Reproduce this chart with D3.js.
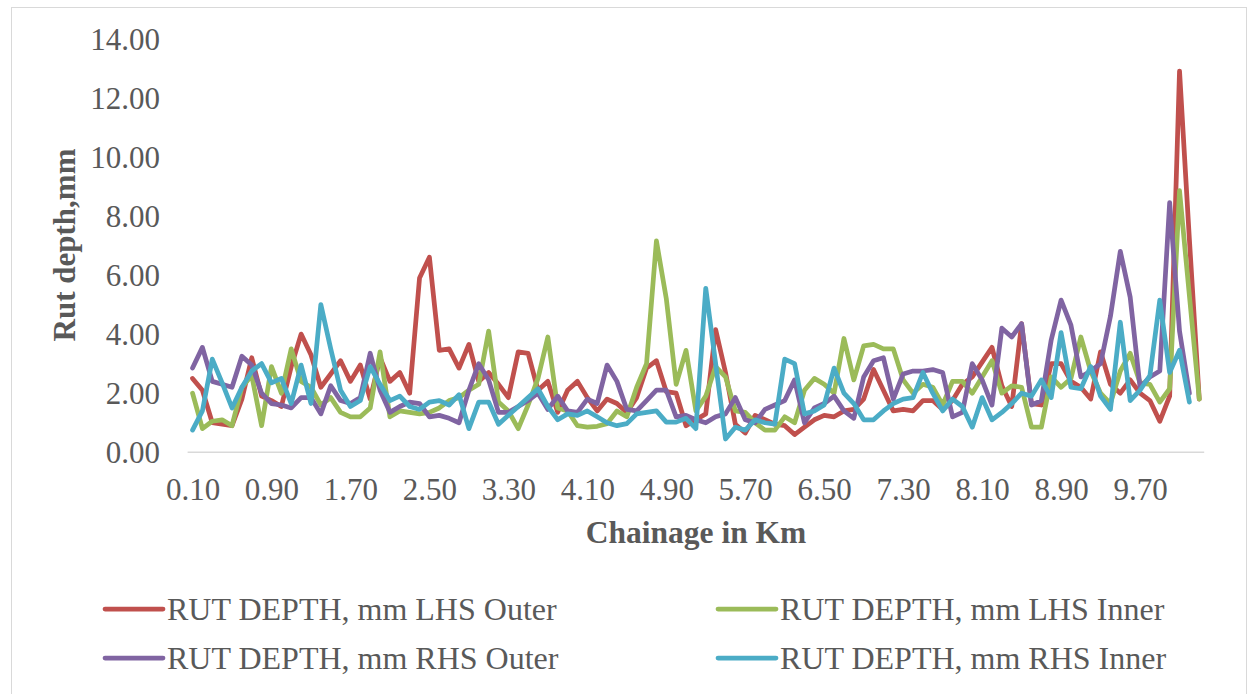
<!DOCTYPE html>
<html>
<head>
<meta charset="utf-8">
<script src="https://cdn.jsdelivr.net/npm/d3@7"></script>
<style>
  html, body { margin: 0; padding: 0; background: #ffffff; }
  svg { display: block; }
  text { font-family: "Liberation Serif", "Times New Roman", serif; fill: #595959; }
</style>
</head>
<body>
<svg id="chart" width="1254" height="694"></svg>
<script>
const categories = ["0.10","0.20","0.30","0.40","0.50","0.60","0.70","0.80","0.90","1.00",
"1.10","1.20","1.30","1.40","1.50","1.60","1.70","1.80","1.90","2.00",
"2.10","2.20","2.30","2.40","2.50","2.60","2.70","2.80","2.90","3.00",
"3.10","3.20","3.30","3.40","3.50","3.60","3.70","3.80","3.90","4.00",
"4.10","4.20","4.30","4.40","4.50","4.60","4.70","4.80","4.90","5.00",
"5.10","5.20","5.30","5.40","5.50","5.60","5.70","5.80","5.90","6.00",
"6.10","6.20","6.30","6.40","6.50","6.60","6.70","6.80","6.90","7.00",
"7.10","7.20","7.30","7.40","7.50","7.60","7.70","7.80","7.90","8.00",
"8.10","8.20","8.30","8.40","8.50","8.60","8.70","8.80","8.90","9.00",
"9.10","9.20","9.30","9.40","9.50","9.60","9.70","9.80","9.90","10.00",
"10.10","10.20","10.30"];

const tickLabels = ["0.10","0.90","1.70","2.50","3.30","4.10","4.90","5.70","6.50","7.30","8.10","8.90","9.70"];
const yTicks = [0, 2, 4, 6, 8, 10, 12, 14];

const seriesNames = ["RUT DEPTH, mm LHS Outer","RUT DEPTH, mm LHS Inner","RUT DEPTH, mm RHS Outer","RUT DEPTH, mm RHS Inner"];
const seriesColors = ["#C0504D","#9BBB59","#8064A2","#4BACC6"];

const lhsOuter = [2.5,2.1,1.0,0.95,0.9,1.8,3.2,1.9,1.75,1.55,2.9,
4.0,3.3,2.2,2.65,3.1,2.4,2.95,1.8,3.2,2.4,2.7,2.0,
5.9,6.6,3.45,3.5,2.85,3.65,2.4,2.7,2.3,1.85,3.4,3.35,2.1,2.4,
1.35,2.1,2.4,1.85,1.4,1.8,1.65,1.35,1.85,2.85,3.1,2.05,2.0,0.9,
1.1,1.3,4.15,2.7,0.95,0.65,1.25,1.1,0.95,0.9,0.6,0.85,1.1,
1.25,1.2,1.4,1.45,1.8,2.8,2.1,1.4,1.45,1.4,1.75,1.75,1.45,
1.75,2.3,2.55,3.05,3.55,2.25,1.55,4.35,1.65,1.6,3.0,3.0,2.4,
2.2,1.8,3.4,2.3,2.0,2.45,2.0,1.75,1.05,1.9,12.9,7.2,1.8];

const lhsInner = [2.0,0.8,1.05,1.1,0.9,2.2,2.6,0.9,2.9,2.0,3.5,
2.4,2.2,1.6,1.85,1.35,1.2,1.2,1.5,3.4,1.2,1.4,1.35,
1.3,1.35,1.5,1.75,1.85,2.1,2.3,4.1,1.7,1.4,0.8,1.6,2.5,3.9,
1.5,1.4,0.9,0.85,0.88,0.97,1.4,1.2,2.2,3.0,7.15,5.2,2.3,3.45,
1.4,1.9,2.9,2.55,1.4,1.35,1.0,0.75,0.75,1.2,1.0,2.1,2.5,
2.3,2.0,3.85,2.45,3.6,3.65,3.5,3.5,2.45,2.0,2.3,2.2,1.6,
2.4,2.4,2.0,2.55,3.1,2.0,2.25,2.2,0.85,0.85,2.55,2.2,2.5,
3.9,2.75,2.0,1.65,2.75,3.35,2.35,2.3,1.7,2.15,8.85,5.3,1.8];

const rhsOuter = [2.85,3.55,2.4,2.3,2.2,3.25,2.95,2.0,1.65,1.6,1.5,
1.85,1.85,1.3,2.25,1.75,1.65,1.85,3.35,2.1,1.35,1.55,1.7,
1.65,1.2,1.25,1.15,1.0,2.1,3.0,2.45,1.35,1.35,1.55,1.75,2.0,1.45,
1.9,1.4,1.35,1.8,1.65,2.95,2.4,1.45,1.4,1.75,2.1,2.1,1.2,1.25,
1.1,1.0,1.2,1.3,1.85,1.1,1.0,1.45,1.6,1.75,2.45,1.0,1.5,
1.65,1.9,1.4,1.15,2.55,3.1,3.2,1.8,2.65,2.75,2.75,2.8,2.7,
1.2,1.35,3.0,2.45,1.6,4.2,3.9,4.35,1.6,1.75,3.8,5.15,4.3,
2.55,2.75,3.0,4.6,6.8,5.25,2.2,2.55,2.75,8.45,4.1,2.0,null];

const rhsInner = [0.75,1.4,3.15,2.35,1.5,2.2,2.75,3.0,2.35,2.5,1.65,
2.95,1.65,5.0,3.5,2.1,1.55,1.75,2.9,2.3,1.75,1.9,1.55,
1.45,1.7,1.75,1.6,1.95,0.8,1.7,1.7,0.95,1.25,1.55,1.85,2.15,1.55,
1.1,1.3,1.25,1.4,1.2,1.0,0.9,0.97,1.3,1.35,1.4,1.02,1.02,1.15,
0.8,5.55,3.0,0.45,0.85,0.75,1.1,1.0,0.95,3.15,3.0,1.3,1.4,
1.6,2.85,2.0,1.65,1.1,1.1,1.4,1.65,1.8,1.85,2.7,2.0,1.4,
1.8,1.55,0.85,1.85,1.1,1.35,1.65,2.0,1.9,2.45,1.85,4.05,2.2,
2.15,2.9,1.9,1.45,4.4,1.75,2.1,2.6,5.15,2.7,3.45,1.7,null];

const seriesValues = [lhsOuter, lhsInner, rhsOuter, rhsInner];

const svg = d3.select("#chart");

// chart border
svg.append("rect")
  .attr("x", 11.5).attr("y", 7.5)
  .attr("width", 1235).attr("height", 690)
  .attr("fill", "#ffffff").attr("stroke", "#d9d9d9").attr("stroke-width", 1);

const plotLeft = 187.6, plotRight = 1204.2;
const x = d3.scalePoint().domain(categories).range([plotLeft, plotRight]).padding(0.5);
const y = d3.scaleLinear().domain([0, 14]).range([452.3, 38.5]);

// y axis labels
const yAxis = d3.axisLeft(y).tickValues(yTicks).tickFormat(d3.format(".2f")).tickSize(0).tickPadding(0);
const yg = svg.append("g").attr("transform", "translate(160,0)").call(yAxis);
yg.select(".domain").remove();
yg.selectAll("text").attr("font-size", 31).attr("fill", "#595959")
  .attr("font-family", "'Liberation Serif', 'Times New Roman', serif").attr("dy", "0.34em");

// x axis
const xAxis = d3.axisBottom(x).tickValues(tickLabels).tickSize(0).tickPadding(0);
const xg = svg.append("g").attr("transform", `translate(0,${y(0)})`).call(xAxis);
xg.select(".domain").attr("stroke", "#d9d9d9").attr("stroke-width", 1.5)
  .attr("d", `M${plotLeft},0H${plotRight}`);
xg.selectAll("text").attr("font-size", 31).attr("fill", "#595959")
  .attr("font-family", "'Liberation Serif', 'Times New Roman', serif")
  .attr("y", 48).attr("dy", 0);

// lines
const line = d3.line()
  .defined(d => d.v !== null)
  .x(d => x(d.c))
  .y(d => y(d.v));

seriesValues.forEach((vals, k) => {
  const data = categories.map((c, i) => ({ c: c, v: vals[i] === undefined ? null : vals[i] }));
  svg.append("path")
    .datum(data)
    .attr("d", line)
    .attr("fill", "none")
    .attr("stroke", seriesColors[k])
    .attr("stroke-width", 4.75)
    .attr("stroke-linejoin", "round")
    .attr("stroke-linecap", "round");
});

// axis titles
svg.append("text")
  .attr("x", 696).attr("y", 543)
  .attr("text-anchor", "middle")
  .attr("font-size", 31.5).attr("font-weight", "bold")
  .text("Chainage in Km");

svg.append("text")
  .attr("transform", "translate(75,245) rotate(-90)")
  .attr("text-anchor", "middle")
  .attr("font-size", 31).attr("font-weight", "bold")
  .text("Rut depth,mm");

// legend
const legendPos = [
  { lx: 105, ty: 609 },
  { lx: 718, ty: 609 },
  { lx: 105, ty: 658 },
  { lx: 718, ty: 658 }
];
seriesNames.forEach((name, k) => {
  const p = legendPos[k];
  svg.append("line")
    .attr("x1", p.lx).attr("x2", p.lx + 58)
    .attr("y1", p.ty).attr("y2", p.ty)
    .attr("stroke", seriesColors[k]).attr("stroke-width", 4.75)
    .attr("stroke-linecap", "round");
  svg.append("text")
    .attr("x", p.lx + 62).attr("y", p.ty + 11)
    .attr("font-size", 32)
    .text(name);
});
</script>
</body>
</html>
